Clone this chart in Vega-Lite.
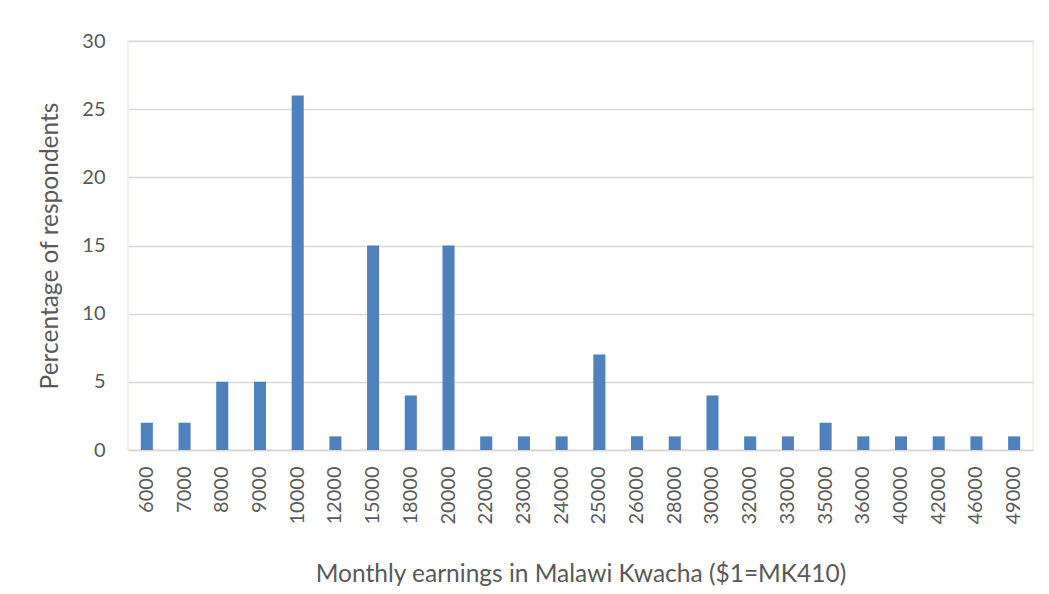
{
  "$schema": "https://vega.github.io/schema/vega-lite/v6.json",
  "width": 905,
  "height": 409,
  "autosize": {"type": "none"},
  "padding": {"left": 128, "top": 41, "right": 16, "bottom": 144},
  "background": "white",
  "data": {
    "values": [
      {"earnings": "6000", "pct": 2},
      {"earnings": "7000", "pct": 2},
      {"earnings": "8000", "pct": 5},
      {"earnings": "9000", "pct": 5},
      {"earnings": "10000", "pct": 26},
      {"earnings": "12000", "pct": 1},
      {"earnings": "15000", "pct": 15},
      {"earnings": "18000", "pct": 4},
      {"earnings": "20000", "pct": 15},
      {"earnings": "22000", "pct": 1},
      {"earnings": "23000", "pct": 1},
      {"earnings": "24000", "pct": 1},
      {"earnings": "25000", "pct": 7},
      {"earnings": "26000", "pct": 1},
      {"earnings": "28000", "pct": 1},
      {"earnings": "30000", "pct": 4},
      {"earnings": "32000", "pct": 1},
      {"earnings": "33000", "pct": 1},
      {"earnings": "35000", "pct": 2},
      {"earnings": "36000", "pct": 1},
      {"earnings": "40000", "pct": 1},
      {"earnings": "42000", "pct": 1},
      {"earnings": "46000", "pct": 1},
      {"earnings": "49000", "pct": 1}
    ]
  },
  "mark": {"type": "bar", "color": "#4f81bd"},
  "encoding": {
    "x": {
      "field": "earnings",
      "type": "nominal",
      "sort": null,
      "scale": {"paddingInner": 0.68, "paddingOuter": 0.34},
      "axis": {
        "title": "Monthly earnings in Malawi Kwacha ($1=MK410)",
        "titleFont": "Lato",
        "titleFontSize": 24.5,
        "titleFontWeight": "normal",
        "titleColor": "#595959",
        "titleY": 131,
        "titleBaseline": "alphabetic",
        "labelAngle": -90,
        "labelAlign": "right",
        "labelBaseline": "middle",
        "labelFont": "Lato",
        "labelFontSize": 20,
        "labelColor": "#595959",
        "labelPadding": 16,
        "ticks": false,
        "domainColor": "#d9d9d9",
        "domainWidth": 1.5,
        "grid": false
      }
    },
    "y": {
      "field": "pct",
      "type": "quantitative",
      "scale": {"domain": [0, 30], "nice": false},
      "axis": {
        "title": "Percentage of respondents",
        "titleFont": "Lato",
        "titleFontSize": 24.5,
        "titleFontWeight": "normal",
        "titleColor": "#595959",
        "titleX": -66,
        "values": [0, 5, 10, 15, 20, 25, 30],
        "labelFont": "Lato",
        "labelFontSize": 20,
        "labelColor": "#595959",
        "labelPadding": 23,
        "ticks": false,
        "domain": false,
        "gridColor": "#d9d9d9",
        "gridWidth": 1.5
      }
    }
  },
  "config": {
    "view": {"stroke": "#eeebe0", "strokeWidth": 1.5}
  }
}
